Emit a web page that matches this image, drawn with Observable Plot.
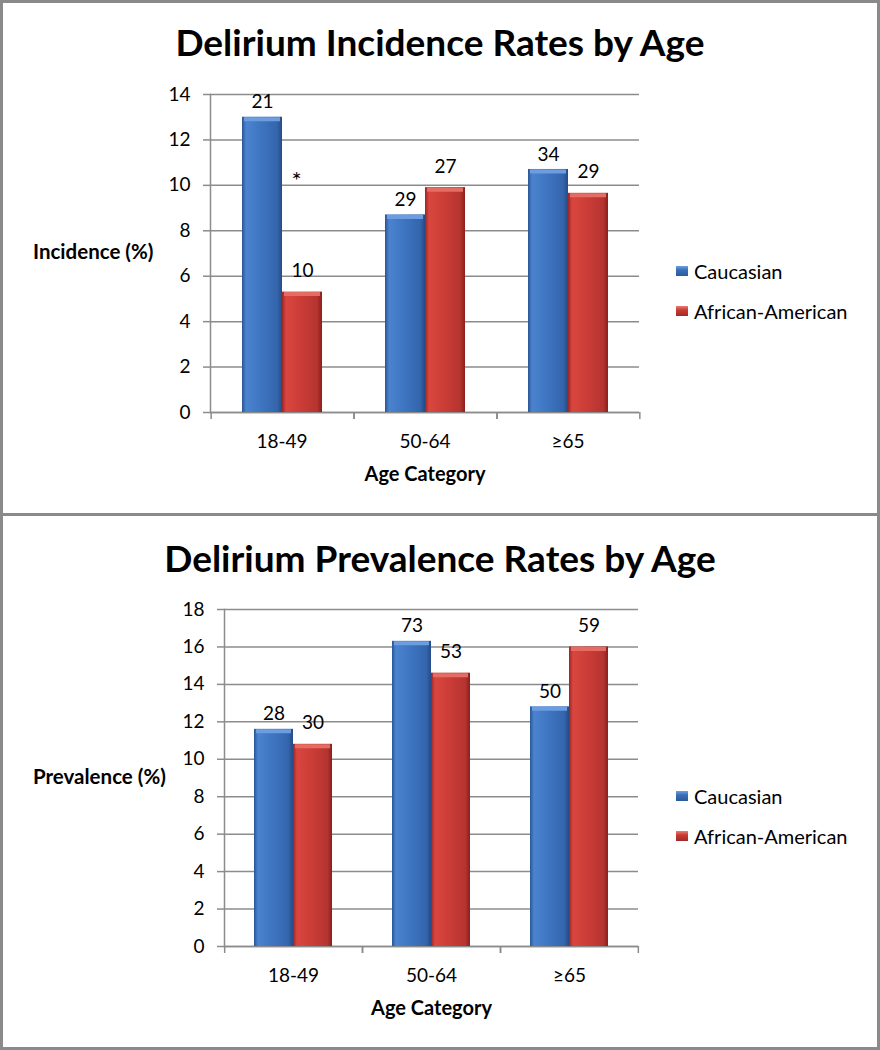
<!DOCTYPE html>
<html>
<head>
<meta charset="utf-8">
<script src="https://cdn.jsdelivr.net/npm/d3@7"></script>
<script src="https://cdn.jsdelivr.net/npm/@observablehq/plot@0.6"></script>
<style>
  body { margin: 0; background: #fff; }
  #wrap { position: relative; width: 880px; height: 1050px; overflow: hidden; font-family: Lato, "Open Sans", sans-serif; color: #000; }
  .abs { position: absolute; }
  .title { left: 0; width: 880px; text-align: center; font-weight: bold; font-size: 37px; line-height: 37px; white-space: nowrap; }
  .ylab { font-weight: bold; font-size: 20.5px; line-height: 20px; white-space: nowrap; }
  .leg { font-size: 20px; line-height: 20px; display: flex; align-items: center; white-space: nowrap; }
  .sw { width: 12px; height: 10px; margin-right: 6px; }
  .border { left: 0; top: 0; width: 880px; height: 1050px; box-sizing: border-box; border: 3px solid #8a8a8a; pointer-events: none; }
  .sep { left: 0; top: 513px; width: 880px; height: 3px; background: #8a8a8a; }
</style>
</head>
<body>
<div id="wrap"></div>
<script>
// ---------- data ----------
const ages = ["18-49", "50-64", "≥65"];
const seriesNames = ["Caucasian", "African-American"];

const incidenceCaucasian = [13.0, 8.7, 10.7];
const incidenceAfrican   = [5.3, 9.9, 9.65];
const incidenceCaucasianN = [21, 29, 34];
const incidenceAfricanN   = [10, 27, 29];
const incidenceTicks = [0, 2, 4, 6, 8, 10, 12, 14];
const incidenceSig = [{age: "18-49", series: "African-American", y: 10.2, mark: "*"}];

const prevalenceCaucasian = [11.6, 16.3, 12.8];
const prevalenceAfrican   = [10.8, 14.6, 16.0];
const prevalenceCaucasianN = [28, 73, 50];
const prevalenceAfricanN   = [30, 53, 59];
const prevalenceTicks = [0, 2, 4, 6, 8, 10, 12, 14, 16, 18];

// ---------- helpers ----------
const wrap = document.getElementById("wrap");
const GRID = "#8c8c8c";

function addDefs(svg, p) {
  const defs = d3.select(svg).insert("defs", ":first-child");
  const mk = (id, stops) => {
    const g = defs.append("linearGradient").attr("id", id).attr("x1", "0").attr("x2", "1").attr("y1", "0").attr("y2", "0");
    stops.forEach(([o, c]) => g.append("stop").attr("offset", o).attr("stop-color", c));
  };
  mk(p + "blue", [["0%", "#2a5592"], ["10%", "#4a83cf"], ["45%", "#3f76c2"], ["88%", "#3465ac"], ["100%", "#244b85"]]);
  mk(p + "red", [["0%", "#992523"], ["10%", "#d9463f"], ["45%", "#cc3d37"], ["88%", "#b53430"], ["100%", "#8a1f1c"]]);
}

function makeChart(cfg) {
  const {prefix, cauc, aa, caucN, aaN, ticks, ymax, height, mt, mb, ml, mr, barW, sig} = cfg;
  const rows = ages.flatMap((a, i) => [
    {age: a, series: seriesNames[0], value: cauc[i], n: caucN[i]},
    {age: a, series: seriesNames[1], value: aa[i], n: aaN[i]}
  ]);
  const blue = rows.filter(d => d.series === seriesNames[0]);
  const red = rows.filter(d => d.series === seriesNames[1]);
  const facetW = (880 - ml - mr) / ages.length;
  const outer = (facetW / barW - 2) / 2;
  const edge = facetW / 2 - barW / 2;

  const chart = Plot.plot({
    width: 880, height,
    marginTop: mt, marginBottom: mb, marginLeft: ml, marginRight: mr,
    style: {fontFamily: "Lato, 'Open Sans', sans-serif", fontSize: "19px", color: "#000", background: "transparent", overflow: "visible"},
    fx: {domain: ages, padding: 0, label: null, axis: null},
    x: {domain: seriesNames, paddingInner: 0, paddingOuter: outer, axis: null},
    y: {domain: [0, ymax], axis: null},
    marks: [
      Plot.gridY(ticks, {stroke: GRID, strokeOpacity: 1, strokeWidth: 1.5}),
      Plot.frame({anchor: "left", facetAnchor: "left", stroke: GRID, strokeWidth: 1.5}),
      Plot.ruleY([0], {stroke: GRID, strokeWidth: 1.5}),
      Plot.ruleX(blue, {fx: "age", x: "series", y1: 0, y2: 0, insetBottom: -7, dx: -edge, stroke: GRID, strokeWidth: 1.5}),
      Plot.ruleX(red, {fx: "age", x: "series", y1: 0, y2: 0, insetBottom: -7, dx: edge, stroke: GRID, strokeWidth: 1.5}),
      Plot.axisY(ticks, {anchor: "left", tickSize: 7, tickPadding: 13, stroke: GRID, strokeWidth: 1.5, fontSize: 19, label: null, tickFormat: d => String(d)}),
      Plot.axisFx({anchor: "bottom", tickSize: 0, tickPadding: 22, fontSize: 19, label: null}),
      Plot.text(["Age Category"], {fx: () => ages[1], frameAnchor: "bottom", lineAnchor: "middle", dy: 62, fontWeight: "bold", fontSize: 20}),
      Plot.barY(blue, {fx: "age", x: "series", y: "value", fill: `url(#${prefix}blue)`}),
      Plot.barY(red, {fx: "age", x: "series", y: "value", fill: `url(#${prefix}red)`}),
      Plot.tickY(blue, {fx: "age", x: "series", y: "value", stroke: "#6b9de0", strokeWidth: 4, dy: 2, inset: 2}),
      Plot.tickY(red, {fx: "age", x: "series", y: "value", stroke: "#e56c63", strokeWidth: 4, dy: 2, inset: 2}),
      Plot.text(blue, {fx: "age", x: "series", y: "value", text: "n", dy: -15, fontSize: 19}),
      Plot.text(red, {fx: "age", x: "series", y: "value", text: "n", dy: -21, fontSize: 19}),
      ...(sig ? [Plot.text(sig, {fx: "age", x: "series", y: "y", text: "mark", dx: -6, fontSize: 24, fill: "#000"})] : [])
    ]
  });
  addDefs(chart, prefix);
  return chart;
}

function place(el, left, top) {
  el.classList.add("abs");
  el.style.left = left + "px";
  el.style.top = top + "px";
  wrap.appendChild(el);
  return el;
}
function div(cls, html) { const d = document.createElement("div"); d.className = cls; d.innerHTML = html; return d; }

function legend(topY) {
  const items = [
    [seriesNames[0], "linear-gradient(to bottom, #6fa0e0, #3a6fb8 40%, #2b5a9a)"],
    [seriesNames[1], "linear-gradient(to bottom, #ec7d74, #c93b35 40%, #a02a26)"]
  ];
  items.forEach(([name, bg], i) => {
    const d = div("leg", `<span class="sw" style="background:${bg}"></span><span>${name}</span>`);
    place(d, 676, topY + i * 40);
  });
}

// ---------- top panel ----------
const c1 = makeChart({
  prefix: "inc", cauc: incidenceCaucasian, aa: incidenceAfrican, caucN: incidenceCaucasianN, aaN: incidenceAfricanN,
  ticks: incidenceTicks, ymax: 14, height: 513, mt: 94, mb: 101, ml: 209, mr: 240, barW: 41, sig: incidenceSig
});
c1.style.position = "absolute"; c1.style.left = "0px"; c1.style.top = "0px";
wrap.appendChild(c1);
place(div("title", "Delirium Incidence Rates by Age"), 0, 23);
place(div("ylab", "Incidence (%)"), 33, 241);
legend(261);

// ---------- bottom panel ----------
const c2 = makeChart({
  prefix: "prev", cauc: prevalenceCaucasian, aa: prevalenceAfrican, caucN: prevalenceCaucasianN, aaN: prevalenceAfricanN,
  ticks: prevalenceTicks, ymax: 18, height: 534, mt: 93, mb: 104, ml: 223, mr: 241, barW: 40, sig: null
});
c2.style.position = "absolute"; c2.style.left = "0px"; c2.style.top = "516px";
wrap.appendChild(c2);
place(div("title", "Delirium Prevalence Rates by Age"), 0, 539);
place(div("ylab", "Prevalence (%)"), 33, 766);
legend(786);

// ---------- borders ----------
place(div("sep", ""), 0, 513);
place(div("border", ""), 0, 0);
</script>
</body>
</html>
